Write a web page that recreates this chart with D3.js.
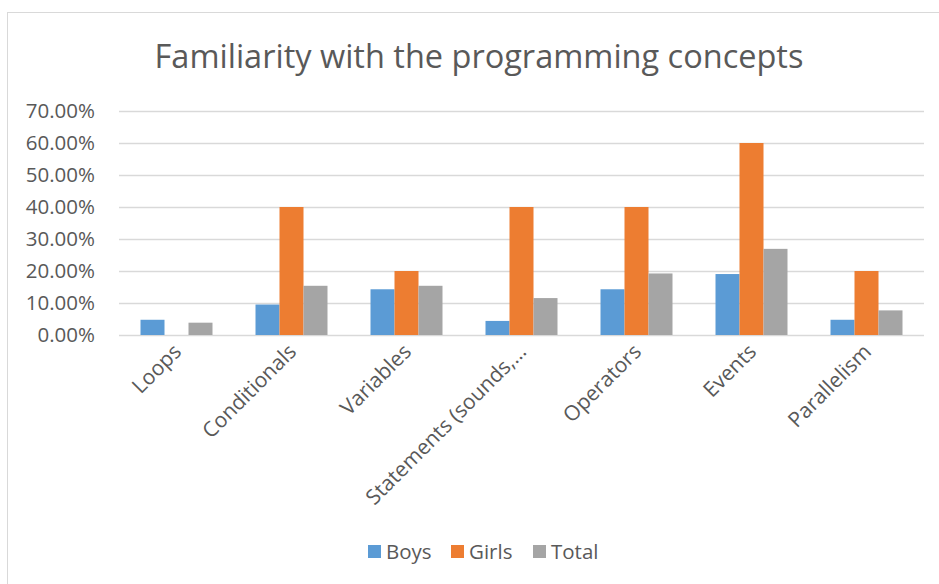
<!DOCTYPE html>
<html>
<head>
<meta charset="utf-8">
<script src="https://cdn.jsdelivr.net/npm/d3@7/dist/d3.min.js"></script>
<style>
  html, body { margin: 0; padding: 0; background: #fff; }
  svg { display: block; font-family: "Open Sans", sans-serif; }
</style>
</head>
<body>
<svg id="chart" width="939" height="584"></svg>
<script>
// Share of pupils familiar with each programming concept
const categories = ["Loops", "Conditionals", "Variables", "Statements (sounds,\u2026", "Operators", "Events", "Parallelism"];
const seriesNames = ["Boys", "Girls", "Total"];
const boys  = [0.0476, 0.0952, 0.1429, 0.0440, 0.1429, 0.1905, 0.0476];
const girls = [0.0, 0.40, 0.20, 0.40, 0.40, 0.60, 0.20];
const total = [0.0385, 0.1538, 0.1538, 0.1154, 0.1923, 0.2692, 0.0769];
const yTicks = [0, 0.1, 0.2, 0.3, 0.4, 0.5, 0.6, 0.7];
const colors = ["#5B9BD5", "#ED7D31", "#A5A5A5"];

const values = [boys, girls, total];
const svg = d3.select("#chart");
const labelSize = 20.5;

// chart area frame
svg.append("rect")
  .attr("x", 7.5).attr("y", 12.5)
  .attr("width", 960).attr("height", 600)
  .attr("fill", "#fff").attr("stroke", "#D9D9D9").attr("stroke-width", 1);

const plot = { left: 119, right: 924, top: 111, bottom: 335 };

const x0 = d3.scaleBand().domain(categories).range([plot.left, plot.right]).padding(0);
const gap = x0.bandwidth() * 0.187;
const x1 = d3.scaleBand().domain(seriesNames).range([gap, x0.bandwidth() - gap]).padding(0);
const y = d3.scaleLinear().domain([0, 0.7]).range([plot.bottom, plot.top]);

// title
svg.append("text")
  .attr("x", 479).attr("y", 68)
  .attr("text-anchor", "middle")
  .attr("fill", "#595959")
  .attr("font-size", 32.5)
  .text("Familiarity with the programming concepts");

// gridlines and value labels
const yAxis = d3.axisLeft(y)
  .tickValues(yTicks)
  .tickSize(-(plot.right - plot.left))
  .tickPadding(24)
  .tickFormat(d3.format(".2%"));

const gy = svg.append("g")
  .attr("transform", `translate(${plot.left},0)`)
  .call(yAxis);
gy.select(".domain").remove();
gy.selectAll(".tick line").attr("stroke", "#D9D9D9").attr("stroke-width", 1.5);
gy.selectAll(".tick text")
  .attr("fill", "#595959")
  .attr("font-size", labelSize)
  .attr("font-family", "Open Sans, sans-serif");

// bars
const groups = svg.append("g").selectAll("g")
  .data(categories)
  .join("g")
  .attr("transform", d => `translate(${x0(d)},0)`);

groups.selectAll("rect")
  .data((d, i) => seriesNames.map((s, j) => ({ s, j, v: values[j][i] })))
  .join("rect")
  .attr("x", d => x1(d.s))
  .attr("width", x1.bandwidth())
  .attr("y", d => y(d.v))
  .attr("height", d => y(0) - y(d.v))
  .attr("fill", d => colors[d.j]);

// category labels
const xAxis = d3.axisBottom(x0).tickSize(0).tickPadding(0);
const gx = svg.append("g")
  .attr("transform", `translate(0,${plot.bottom})`)
  .call(xAxis);
gx.select(".domain").remove();
gx.selectAll(".tick text")
  .attr("fill", "#595959")
  .attr("font-size", 21)
  .attr("font-family", "Open Sans, sans-serif")
  .attr("text-anchor", "end")
  .attr("dy", null)
  .attr("y", 0)
  .attr("transform", "translate(6,18) rotate(-45)");

// legend
const legendX = [368, 451, 533];
const legend = svg.append("g").selectAll("g")
  .data(seriesNames)
  .join("g")
  .attr("transform", (d, i) => `translate(${legendX[i]},545)`);
legend.append("rect")
  .attr("width", 13).attr("height", 13)
  .attr("fill", (d, i) => colors[i]);
legend.append("text")
  .attr("x", 18).attr("y", 14)
  .attr("fill", "#595959")
  .attr("font-size", labelSize)
  .text(d => d);
</script>
</body>
</html>
